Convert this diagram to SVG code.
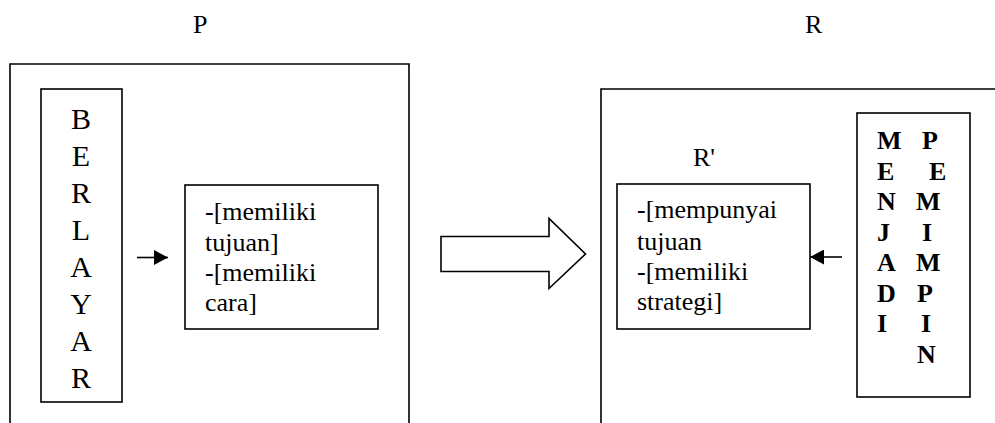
<svg xmlns="http://www.w3.org/2000/svg" width="995" height="423" viewBox="0 0 995 423">
  <style>
    .box { fill: #fff; stroke: #000; stroke-width: 1.6; }
    .open { fill: none; stroke: #000; stroke-width: 1.6; }
    .t { font-family: "Liberation Serif", "Times New Roman", serif; font-size: 26px; fill: #000; }
    .big { font-family: "Liberation Serif", "Times New Roman", serif; font-size: 30px; fill: #000; text-anchor: middle; }
    .b { font-family: "Liberation Serif", "Times New Roman", serif; font-size: 26px; font-weight: bold; fill: #000; }
    .line { stroke: #000; stroke-width: 1.6; fill: none; }
  </style>
  <defs>
    <marker id="head" viewBox="0 0 14 15" refX="14" refY="7.5" markerWidth="14" markerHeight="15" markerUnits="userSpaceOnUse" orient="auto">
      <path d="M0,0 L14,7.5 L0,15 Z" fill="#000"/>
    </marker>
  </defs>

  <rect width="995" height="423" fill="#fff"/>

  <!-- section titles -->
  <text class="t" x="193" y="33">P</text>
  <text class="t" x="805" y="33">R</text>

  <!-- left frame (open at the bottom) -->
  <g id="frame-p">
    <path class="open" d="M10,430 L10,64 L409,64 L409,430"/>
  </g>

  <!-- right frame (runs off right and bottom edges) -->
  <g id="frame-r">
    <path class="open" d="M601,430 L601,89 L1000,89"/>
  </g>

  <g id="berlayar">
    <rect class="box" x="41" y="89" width="81" height="313"/>
    <text class="big" x="81" y="129">B</text>
    <text class="big" x="81" y="166">E</text>
    <text class="big" x="81" y="203">R</text>
    <text class="big" x="81" y="240">L</text>
    <text class="big" x="81" y="277">A</text>
    <text class="big" x="81" y="314">Y</text>
    <text class="big" x="81" y="351">A</text>
    <text class="big" x="81" y="388">R</text>
  </g>

  <g id="ciri-p">
    <rect class="box" x="185" y="185" width="193" height="144"/>
    <text class="t" x="205" y="220">-[memiliki</text>
    <text class="t" x="205" y="251">tujuan]</text>
    <text class="t" x="205" y="281">-[memiliki</text>
    <text class="t" x="205" y="311">cara]</text>
  </g>

  <g id="ciri-r">
    <text class="t" x="693" y="166">R'</text>
    <rect class="box" x="617" y="184" width="193" height="145"/>
    <text class="t" x="637" y="218">-[mempunyai</text>
    <text class="t" x="637" y="250">tujuan</text>
    <text class="t" x="637" y="280">-[memiliki</text>
    <text class="t" x="637" y="310">strategi]</text>
  </g>

  <g id="menjadi-pemimpin">
    <rect class="box" x="857" y="113" width="113" height="284"/>
    <text class="b" x="877" y="149">M</text>
    <text class="b" x="877" y="179.5">E</text>
    <text class="b" x="877" y="210">N</text>
    <text class="b" x="877" y="240.5">J</text>
    <text class="b" x="877" y="271">A</text>
    <text class="b" x="877" y="301.5">D</text>
    <text class="b" x="877" y="332">I</text>
    <text class="b" x="922" y="149">P</text>
    <text class="b" x="929" y="179.5">E</text>
    <text class="b" x="916" y="210">M</text>
    <text class="b" x="922" y="240.5">I</text>
    <text class="b" x="916" y="271">M</text>
    <text class="b" x="917" y="301.5">P</text>
    <text class="b" x="921" y="332">I</text>
    <text class="b" x="917" y="363">N</text>
  </g>

  <g id="connectors">
    <line class="line" x1="137" y1="257.5" x2="168" y2="257.5" marker-end="url(#head)"/>
    <line class="line" x1="842" y1="257" x2="810" y2="257" marker-end="url(#head)"/>
    <path class="box" d="M441,236.5 L549,236.5 L549,218.5 L585.5,254 L549,288.5 L549,271.5 L441,271.5 Z"/>
  </g>
</svg>
